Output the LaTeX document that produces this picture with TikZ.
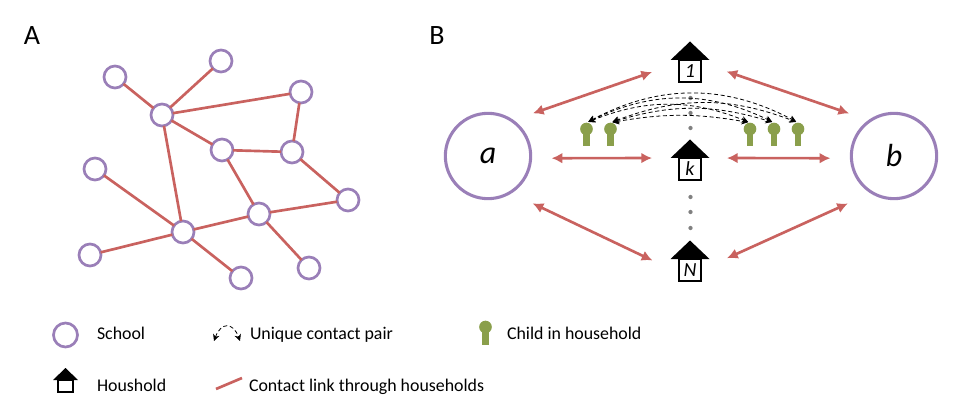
\documentclass[tikz,border=0pt]{standalone}
\usepackage{fontspec}
\setmainfont{Carlito}
\usetikzlibrary{positioning, arrows.meta}
\definecolor{schoolpurple}{HTML}{9A7FB8}
\definecolor{linkred}{HTML}{C9625F}
\definecolor{childgreen}{HTML}{8A9F4B}

\begin{document}
\begin{tikzpicture}[
      x=0.75pt, y=-0.75pt,
      every node/.style={font=\fontsize{13.4}{15}\selectfont, inner sep=0pt, outer sep=0pt},
      school/.style={draw=schoolpurple, line width=2pt, circle, fill=white, minimum size=16.5pt},
      bigschool/.style={draw=schoolpurple, line width=2.3pt, circle, minimum size=64pt, font=\fontsize{24}{28}\selectfont\itshape},
      link/.style={draw=linkred, line width=2pt},
      dlink/.style={draw=linkred, line width=2pt, {Latex[length=8pt,width=8pt]}-{Latex[length=8pt,width=8pt]}},
      housebox/.style={draw, line width=1.2pt, minimum width=16.5pt, minimum height=16.5pt, font=\fontsize{15}{17}\selectfont\itshape},
      kidhead/.style={circle, fill=childgreen, minimum size=9.5pt},
      kidstem/.style={draw=childgreen, line width=5.2pt},
      gapdot/.style={circle, fill=gray, minimum size=3.2pt},
      pair/.style={densely dashed, line width=0.6pt, {Stealth[length=5pt,width=5pt]}-{Stealth[length=5pt,width=5pt]}},
      legtext/.style={anchor=base west},
      panel/.style={font=\fontsize{21}{25}\selectfont},
    ]
    \useasboundingbox (0,0) rectangle (962,420);

    \node[panel] (labelA) at (32,36) {A};
    \node[panel] (labelB) at (437,36) {B};

    % panel A
    \foreach \n/\x/\y in {s1/115/77, s2/221/61, s3/162/115, s4/301/92, s5/222/150, s6/292/152,
                          s7/95/169, s8/348/200, s9/259/214, s10/183/232, s11/90/255, s12/241/278, s13/309/268}
      \node[school] (\n) at (\x,\y) {};
    \foreach \p/\q in {s1/s3, s2/s3, s3/s4, s3/s5, s5/s6, s4/s6, s3/s10, s7/s10,
                       s5/s9, s6/s8, s9/s8, s9/s10, s10/s11, s10/s12, s9/s13}
      \draw[link] (\p) -- (\q);

    % panel B
    \node[bigschool] (a) at (488,156) {a};
    \node[bigschool] (b) at (894,156) {b};
    \foreach \n/\y/\t in {h1/71/1, hk/169/k, hN/270/N} {
      \node[housebox] (\n) at (690,\y) {\t};
      \fill (\n.north) ++(-19.5,0) -- ++(19.5,-18.5) -- ++(19.5,18.5) -- cycle;
    }
    \draw[dlink, shorten <=22.3*0.75pt, shorten >=28.6*0.75pt] (a.56) -- (h1.143);
    \draw[dlink, shorten <=27*0.75pt, shorten >=22.3*0.75pt] (h1.37) -- (b.124);
    \draw[dlink, shorten <=21*0.75pt, shorten >=27*0.75pt] (a.-3) -- (hk.north west);
    \draw[dlink, shorten <=26*0.75pt, shorten >=21*0.75pt] (hk.north east) -- (b.183);
    \draw[dlink, shorten <=25.1*0.75pt, shorten >=29.5*0.75pt] (a.-59) -- (hN.196);
    \draw[dlink, shorten <=28.6*0.75pt, shorten >=26.5*0.75pt] (hN.east) -- (b.239);

    \foreach \n/\y in {d1/98, d2/113, d3/128, d4/197, d5/212, d6/228}
      \node[gapdot] (\n) at (690.5,\y) {};

    \foreach \n/\x in {c1/586.5, c2/610.5, c3/750, c4/774, c5/798} {
      \node[kidhead] (\n) at (\x,129) {};
      \draw[kidstem] (\n.center) -- ++(0,17.5);
    }
    \foreach \p/\q/\bend in {c1/c3/22, c1/c4/26, c1/c5/28, c2/c3/10, c2/c4/17, c2/c5/21}
      \draw[pair, shorten <=1.5pt, shorten >=1.5pt] (\p.north) to[out=\bend, in=180-\bend] (\q.north);

    % legend
    \node[school, minimum size=18pt] (legschool) at (65.5,335) {};
    \node[legtext] (legschooltext) at (97,339) {School};
    \coordinate (pairstart) at (214,341);
    \coordinate (pairend) at (240,341);
    \draw[pair] (pairstart) to[out=70, in=110, looseness=2] (pairend);
    \node[legtext] (legpairtext) at (250,339) {Unique contact pair};
    \node[kidhead] (legkid) at (485.5,327) {};
    \draw[kidstem] (legkid.center) -- ++(0,18);
    \node[legtext] (legkidtext) at (507,339) {Child in household};
    \node[housebox, minimum width=11.5pt, minimum height=9pt] (leghouse) at (65.5,386) {};
    \fill (leghouse.north) ++(-12.5,0) -- ++(12.5,-12) -- ++(12.5,12) -- cycle;
    \node[legtext] (leghousetext) at (97,391) {Houshold};
    \coordinate (linkstart) at (216,389);
    \coordinate (linkend) at (242,378);
    \draw[link] (linkstart) -- (linkend);
    \node[legtext] (leglinktext) at (249,391) {Contact link through households};
  \end{tikzpicture}
\end{document}
